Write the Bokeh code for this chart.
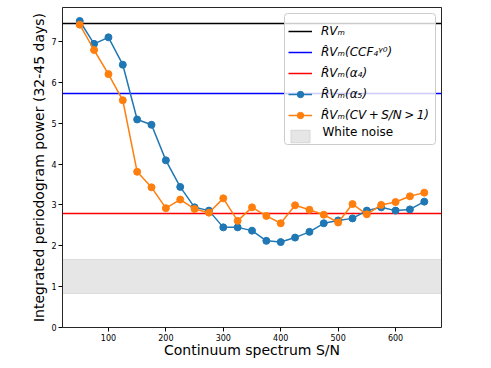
from bokeh.plotting import figure
from bokeh.models import Range1d, Legend, LegendItem, FixedTicker, Label, BoxAnnotation
from bokeh.embed import file_html
from bokeh.resources import INLINE

snr = [50, 75, 100, 125, 150, 175, 200, 225, 250, 275, 300, 325, 350,
       375, 400, 425, 450, 475, 500, 525, 550, 575, 600, 625, 650]
alpha5 = [7.50, 6.94, 7.10, 6.43, 5.09, 4.96, 4.09, 3.44, 2.94, 2.86, 2.45, 2.45, 2.37,
          2.12, 2.09, 2.20, 2.34, 2.55, 2.62, 2.67, 2.86, 2.94, 2.86, 2.89, 3.08]
cv_snr = [7.41, 6.79, 6.20, 5.56, 3.81, 3.43, 2.92, 3.13, 2.90, 2.81, 3.16, 2.61, 2.94,
          2.73, 2.55, 2.99, 2.88, 2.76, 2.57, 3.02, 2.77, 3.00, 3.07, 3.21, 3.30]
rv_m = 7.43
rv_ccf = 5.73
rv_alpha4 = 2.78
white_noise = (0.82, 1.66)

labels = ["RVₘ", "R̂Vₘ(CCF₄ᵞ⁰)", "R̂Vₘ(α₄)", "R̂Vₘ(α₅)",
          "R̂Vₘ(CV\u2009+\u2009S/N\u2009>\u20091)", "White noise"]
x_ticks = [100, 200, 300, 400, 500, 600]
y_ticks = [0, 1, 2, 3, 4, 5, 6, 7]

p = figure(width=491, height=368, output_backend="svg", toolbar_location=None,
           x_range=Range1d(20, 680), y_range=Range1d(0, 7.83),
           min_border_left=62, min_border_right=50, min_border_top=7, min_border_bottom=41)

p.xgrid.visible = False
p.ygrid.visible = False
p.outline_line_color = "black"
p.outline_line_alpha = 0.85
p.outline_line_width = 1

for ax in (p.xaxis[0], p.yaxis[0]):
    ax.axis_line_color = None
    ax.major_tick_out = 4
    ax.major_tick_in = 0
    ax.minor_tick_line_color = None
    ax.major_tick_line_color = "black"
    ax.major_label_text_font = "DejaVu Sans"
    ax.major_label_text_font_size = "8px"
    ax.major_label_text_color = "black"
    ax.major_label_standoff = 2
    ax.axis_label_text_font = "DejaVu Sans"
    ax.axis_label_text_font_size = "14px"
    ax.axis_label_text_font_style = "normal"
    ax.axis_label_text_color = "black"

p.xaxis.ticker = FixedTicker(ticks=x_ticks)
p.yaxis.ticker = FixedTicker(ticks=y_ticks)
p.xaxis.axis_label = "Continuum spectrum S/N"
p.yaxis.axis_label = "Integrated periodogram power (32-45 days)"
p.xaxis.axis_label_standoff = -2
p.yaxis.axis_label_standoff = 1

r_wn = p.hstrip(y0=[white_noise[0]], y1=[white_noise[1]], fill_color="gray", fill_alpha=0.2,
                line_color="gray", line_alpha=0.2, line_width=1)
r_rv = p.hspan(y=[rv_m], line_color="black", line_width=1.5)
r_ccf = p.hspan(y=[rv_ccf], line_color="blue", line_width=1.5)
r_a4 = p.hspan(y=[rv_alpha4], line_color="red", line_width=1.5)
l_a5 = p.line(snr, alpha5, line_color="#1f77b4", line_width=1.5)
s_a5 = p.scatter(snr, alpha5, size=7, fill_color="#1f77b4", line_color="#1f77b4")
l_cv = p.line(snr, cv_snr, line_color="#ff7f0e", line_width=1.5)
s_cv = p.scatter(snr, cv_snr, size=7, fill_color="#ff7f0e", line_color="#ff7f0e")

# legend: top-left corner at (222, 314) from frame bottom-left
lx, ly = 222, 314
pad, lh, sp, gw, so = 5, 16, 5, 24, 9
leg_h = 2 * pad + 6 * lh + 5 * sp
leg_w = 151

# legend frame (semi-transparent white box with light border), drawn beneath the legend entries
box = BoxAnnotation(left=lx, right=lx + leg_w, top=ly, bottom=ly - leg_h,
                    left_units="screen", right_units="screen",
                    top_units="screen", bottom_units="screen",
                    fill_color="white", fill_alpha=0.8,
                    line_color="#cccccc", line_width=1, line_alpha=1,
                    border_radius=3, editable=False)
p.add_layout(box)

wn_label = Label(x=lx + pad + gw + so, y=ly - pad - 5 * (lh + sp) - lh / 2,
                 x_units="screen", y_units="screen", text=labels[5],
                 text_font="DejaVu Sans", text_font_size="12px", text_color="black",
                 text_baseline="middle", text_align="left")
p.add_layout(wn_label)

legend = Legend(items=[
    LegendItem(label=labels[0], renderers=[r_rv]),
    LegendItem(label=labels[1], renderers=[r_ccf]),
    LegendItem(label=labels[2], renderers=[r_a4]),
    LegendItem(label=labels[3], renderers=[l_a5, s_a5]),
    LegendItem(label=labels[4], renderers=[l_cv, s_cv]),
    LegendItem(label=" ", renderers=[r_wn]),
], location=(lx + 4, ly - leg_h))
legend.padding = pad
legend.spacing = sp
legend.label_height = lh
legend.glyph_height = lh
legend.glyph_width = gw
legend.label_standoff = so
legend.label_text_font = "DejaVu Sans"
legend.label_text_font_size = "12px"
legend.label_text_font_style = "italic"
legend.label_text_color = "black"
legend.border_line_color = None
legend.background_fill_alpha = 0
p.add_layout(legend)

open("out.html", "w").write(file_html(p, INLINE))
